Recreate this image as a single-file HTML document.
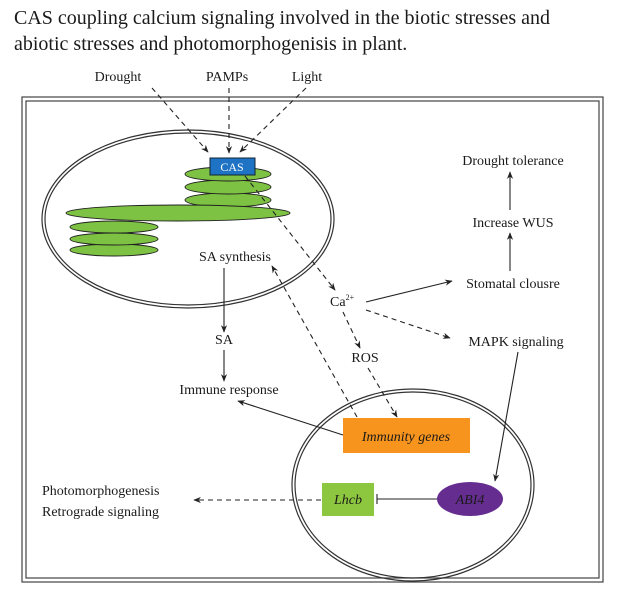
<!DOCTYPE html><html><head><style>body{margin:0;background:#fff}svg{display:block}text{font-family:"Liberation Serif",serif;fill:#1a1a1a}</style></head><body>
<svg width="637" height="593" viewBox="0 0 637 593" xmlns="http://www.w3.org/2000/svg">
<defs><marker id="a" viewBox="0 0 10 10" refX="9" refY="5" markerWidth="7" markerHeight="7" orient="auto"><path d="M0,1 L10,5 L0,9 L3,5z" fill="#222"/></marker></defs>
<text x="14" y="24" font-size="20">CAS coupling calcium signaling involved in the biotic stresses and</text>
<text x="14" y="50" font-size="20">abiotic stresses and photomorphogenisis in plant.</text>
<rect x="22" y="97" width="581" height="485" fill="none" stroke="#444" stroke-width="1.2"/>
<rect x="26" y="101" width="573" height="477" fill="none" stroke="#444" stroke-width="1.2"/>
<ellipse cx="188" cy="219" rx="146" ry="89" fill="none" stroke="#333" stroke-width="1.2"/>
<ellipse cx="188" cy="219" rx="143" ry="86" fill="none" stroke="#333" stroke-width="1.2"/>
<ellipse cx="413" cy="485" rx="121" ry="96" fill="none" stroke="#333" stroke-width="1.2"/>
<ellipse cx="413" cy="485" rx="118" ry="93" fill="none" stroke="#333" stroke-width="1.2"/>
<g fill="#7dc242" stroke="#222" stroke-width="0.9">
<ellipse cx="228" cy="200" rx="43" ry="7"/><ellipse cx="228" cy="187" rx="43" ry="7"/><ellipse cx="228" cy="174" rx="43" ry="7"/>
<ellipse cx="178" cy="213" rx="112" ry="8"/>
<ellipse cx="114" cy="250" rx="44" ry="6"/><ellipse cx="114" cy="239" rx="44" ry="6"/><ellipse cx="114" cy="227" rx="44" ry="6"/>
</g>
<rect x="210" y="158" width="45" height="17" fill="#1f73c4" stroke="#123"/>
<text x="232" y="171" font-size="12" text-anchor="middle" style="fill:#fff">CAS</text>
<g font-size="14">
<text x="118" y="81" text-anchor="middle">Drought</text>
<text x="227" y="81" text-anchor="middle">PAMPs</text>
<text x="307" y="81" text-anchor="middle">Light</text>
<text x="235" y="261" text-anchor="middle">SA synthesis</text>
<text x="224" y="344" text-anchor="middle">SA</text>
<text x="229" y="394" text-anchor="middle">Immune response</text>
<text x="330" y="306">Ca<tspan font-size="8" dy="-6">2+</tspan></text>
<text x="365" y="362" text-anchor="middle">ROS</text>
<text x="513" y="165" text-anchor="middle">Drought tolerance</text>
<text x="513" y="227" text-anchor="middle">Increase WUS</text>
<text x="513" y="288" text-anchor="middle">Stomatal clousre</text>
<text x="516" y="346" text-anchor="middle">MAPK signaling</text>
<text x="42" y="495">Photomorphogenesis</text>
<text x="42" y="516">Retrograde signaling</text>
</g>
<rect x="343" y="418" width="127" height="35" fill="#f7941d"/>
<text x="406" y="441" font-size="14" font-style="italic" text-anchor="middle">Immunity genes</text>
<rect x="322" y="483" width="52" height="33" fill="#8dc63f"/>
<text x="348" y="504" font-size="14" font-style="italic" text-anchor="middle">Lhcb</text>
<ellipse cx="470" cy="499" rx="33" ry="17" fill="#662d91"/>
<text x="470" y="504" font-size="14" font-style="italic" text-anchor="middle">ABI4</text>
<g stroke="#222" stroke-width="1.1" fill="none">
<g stroke-dasharray="5,4">
<path d="M152,88 L208,152" marker-end="url(#a)"/>
<path d="M229,88 L229,153" marker-end="url(#a)"/>
<path d="M306,88 L240,152" marker-end="url(#a)"/>
<path d="M245,176 L335,290" marker-end="url(#a)"/>
<path d="M343,312 L360,348" marker-end="url(#a)"/>
<path d="M368,368 L397,417" marker-end="url(#a)"/>
<path d="M357,417 L272,266" marker-end="url(#a)"/>
<path d="M366,310 L450,338" marker-end="url(#a)"/>
<path d="M321,500 L194,500" marker-end="url(#a)"/>
</g>
<path d="M366,302 L452,281" marker-end="url(#a)"/>
<path d="M510,271 L510,233" marker-end="url(#a)"/>
<path d="M510,210 L510,172" marker-end="url(#a)"/>
<path d="M224,268 L224,332" marker-end="url(#a)"/>
<path d="M224,350 L224,381" marker-end="url(#a)"/>
<path d="M343,435 L238,401" marker-end="url(#a)"/>
<path d="M518,352 L495,481" marker-end="url(#a)"/>
<path d="M437,499 L377,499 M377,494 L377,504"/>
</g>
</svg></body></html>
